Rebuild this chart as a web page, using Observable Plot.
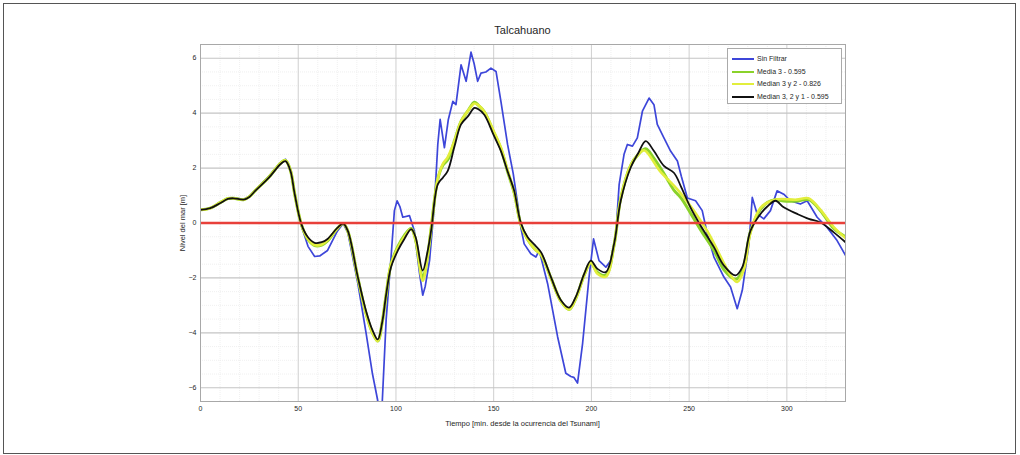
<!DOCTYPE html>
<html>
<head>
<meta charset="utf-8">
<script src="https://cdn.jsdelivr.net/npm/d3@7"></script>
<script src="https://cdn.jsdelivr.net/npm/@observablehq/plot@0.6"></script>
<style>
  html, body { margin: 0; padding: 0; background: #fff; }
  #wrap { position: relative; width: 1020px; height: 455px; overflow: hidden; font-family: "Liberation Sans", Arial, sans-serif; color: #262626; }
  #border { position: absolute; left: 3px; top: 3px; width: 1011px; height: 449px; border: 1px solid #555; pointer-events: none; }
  .lbl { position: absolute; white-space: nowrap; }
  #legend { position: absolute; left: 727px; top: 48px; width: 115px; height: 56px; background: #fff; border: 1px solid #aaa; box-sizing: border-box; }
  .entry { position: absolute; left: 4px; height: 10px; font-size: 7px; line-height: 10px; white-space: nowrap; }
  .entry span.sw { display: inline-block; width: 22px; vertical-align: middle; margin-right: 3px; }
</style>
</head>
<body>
<div id="wrap">
  <div id="chart"></div>
  <div class="lbl" id="title" style="left:0;width:1045px;top:24px;text-align:center;font-size:11px;">Talcahuano</div>
  <div class="lbl" id="xlabel" style="left:0;width:1045px;top:419px;text-align:center;font-size:7.5px;">Tiempo [min. desde la ocurrencia del Tsunami]</div>
  <div class="lbl" id="ylabel" style="left:182px;top:223px;font-size:7.5px;transform:translate(-50%,-50%) rotate(-90deg);">Nivel del mar [m]</div>
  <div id="legend"></div>
  <div id="border"></div>
</div>
<script>
// ---- data ----
const seriesNames = ["Sin Filtrar", "Media 3 - 0.595", "Median 3 y 2 - 0.826", "Median 3, 2 y 1 - 0.595"];
const seriesColors = ["#3d46d9", "#8ad22a", "#e2ee3c", "#111111"];

const xTicks = [0, 50, 100, 150, 200, 250, 300];
const yTicks = [-6, -4, -2, 0, 2, 4, 6];

// Sin Filtrar (blue)
const tSinFiltrar = [0,5,10,14,17,22,25,28,35,41,43.5,46,48.2,51.6,55,58.4,61,65,70,73,75.4,80.5,84.7,88,90.5,91.7,93,95,97.5,99.2,100.6,102,103.5,106.9,109.4,112,113.7,115,117.2,119.7,121.4,122.6,124.8,126.8,129.1,130.7,133.3,135.9,138.4,140,141.8,143.5,146,148.6,151.2,153.7,157.1,160,162.3,164,165.6,169,171.6,173.3,177.6,182.7,186.9,189.5,191,192.9,195.5,198.8,201.1,203.9,207.4,209.9,212.5,214.2,216.7,218.4,221,223.5,226.1,229.5,232,233.7,237.1,240.5,244,246,249.1,253.3,256.7,259.3,262.7,267.8,271.2,274.6,277.2,280.6,282.3,284.8,288.2,291.6,295,298.4,301.8,306.9,310.4,315.5,320.6,325.7,330];
const vSinFiltrar = [0.48,0.54,0.74,0.9,0.92,0.86,0.97,1.2,1.7,2.2,2.32,1.95,1.05,-0.1,-0.85,-1.22,-1.2,-1.0,-0.3,-0.02,-0.35,-2.2,-4.0,-5.5,-6.4,-6.9,-6.5,-3.5,-1.24,0.45,0.81,0.6,0.21,0.27,-0.28,-1.8,-2.63,-2.3,-1.36,0.69,2.86,3.77,2.74,3.77,4.43,4.31,5.76,5.16,6.22,5.8,5.16,5.46,5.5,5.64,5.52,4.43,2.86,1.8,0.69,-0.2,-0.76,-1.12,-1.24,-1.0,-2.21,-4.14,-5.47,-5.59,-5.62,-5.83,-4.38,-1.97,-0.58,-1.37,-1.61,-1.37,-0.4,1.41,2.5,2.86,2.8,3.1,4.07,4.55,4.31,3.59,3.1,2.62,2.26,1.7,0.91,0.81,0.45,-0.4,-1.24,-1.97,-2.33,-3.12,-2.45,-0.76,0.93,0.33,0.15,0.45,1.17,1.05,0.81,0.69,0.81,0.21,-0.16,-0.64,-1.18];

// Media 3 (green)
const tMedia3 = [0,5,10,14,17,22,25,28,35,41,43.5,46,48.2,51.6,55,58.4,62,65,70,73,75.4,80.5,84.7,88,90.7,93,95,97.5,101,104.3,107.8,110,113.7,116,118,121.4,124,126.5,130,133.3,137,140.1,142,145.2,150,153.7,157,160.5,163.9,167.4,171,174.2,179.3,184.4,188.6,192,196.3,199.7,203.1,207.4,211.6,215,220.1,224,227.8,232,237.1,242.2,246,250.8,255.9,262.7,267.8,273.8,277.2,281.4,286.5,290,294.2,298.4,305.3,311.2,317.2,324,330];
const vMedia3 = [0.48,0.54,0.74,0.89,0.9,0.85,0.96,1.18,1.67,2.18,2.28,1.92,1.05,-0.05,-0.6,-0.82,-0.8,-0.65,-0.2,-0.02,-0.3,-2.0,-3.3,-4.0,-4.3,-3.6,-2.6,-1.5,-0.85,-0.45,-0.2,-0.6,-2.0,-1.3,-0.2,1.6,2.1,2.3,3.0,3.7,4.1,4.4,4.3,4.05,3.3,2.7,1.9,1.1,-0.05,-0.6,-0.95,-1.15,-2.0,-2.85,-3.15,-2.75,-1.9,-1.45,-1.8,-1.9,-0.8,0.9,2.1,2.5,2.7,2.35,1.8,1.2,0.9,0.35,-0.25,-1.0,-1.7,-2.05,-1.75,-0.3,0.5,0.75,0.85,0.8,0.8,0.85,0.45,-0.2,-0.5];

// Median 3 y 2 (yellow)
const tMedian32 = [0,5,10,14,17,22,25,28,35,41,43.5,46,48.2,51.6,55,58.4,62,65,70,73,75.4,80.5,84.7,88,90.7,93,95,97.5,101,104.3,107.8,110,113.7,116,118,121.4,124,126.5,130,133.3,137,140.1,142,145.2,150,153.7,157,160.5,163.9,167.4,171,174.2,179.3,184.4,188.6,192,196.3,199.7,203.1,207.4,211.6,215,220.1,224,227,235,245.7,259.3,271.2,274.6,278,281.4,286.5,294,305,311,317,324,330];
const vMedian32 = [0.48,0.54,0.74,0.89,0.9,0.85,0.96,1.18,1.67,2.18,2.28,1.92,1.05,-0.05,-0.58,-0.8,-0.78,-0.62,-0.2,-0.02,-0.3,-2.0,-3.3,-4.0,-4.3,-3.6,-2.6,-1.5,-0.9,-0.5,-0.22,-0.6,-2.1,-1.3,-0.2,1.6,2.15,2.4,3.0,3.7,4.1,4.35,4.3,4.05,3.35,2.75,1.95,1.1,-0.05,-0.6,-0.95,-1.15,-2.0,-2.85,-3.15,-2.75,-1.9,-1.45,-1.85,-1.95,-0.8,0.9,2.1,2.5,2.65,1.9,1.08,-0.3,-1.9,-2.15,-1.7,-0.35,0.55,0.85,0.85,0.9,0.5,-0.15,-0.55];

// Median 3, 2 y 1 (black)
const tMedian321 = [0,5,10,14,17,22,25,28,35,41,43.5,46,48.2,51.6,55,58.4,62,65,70,73,75.4,80.5,84.7,88,90.7,93,95,97.5,101,104.3,107.8,110,113.7,116,118,121.4,124,126.5,130,133.3,137,140.1,142,145.2,150,153.7,157,160.5,163.9,167.4,171,174.2,179.3,184.4,188.6,192,196.3,199.7,203.1,207.4,211.6,215,220.1,224,227.8,232,237.1,242.2,246,250.8,255.9,262.7,267.8,273.8,277.2,281.4,286.5,290,294.2,298.4,305.3,311.2,317.2,324,330];
const vMedian321 = [0.48,0.54,0.72,0.88,0.9,0.85,0.95,1.17,1.65,2.15,2.25,1.9,1.05,-0.04,-0.52,-0.72,-0.7,-0.58,-0.18,-0.02,-0.29,-1.97,-3.2,-3.9,-4.24,-3.6,-2.6,-1.6,-1.0,-0.58,-0.22,-0.5,-1.73,-1.1,-0.27,1.41,1.65,1.9,2.8,3.59,3.9,4.19,4.15,3.94,3.2,2.62,1.9,1.17,0.0,-0.52,-0.8,-1.06,-1.97,-2.81,-3.08,-2.69,-1.85,-1.37,-1.67,-1.79,-0.76,0.81,2.02,2.55,2.98,2.62,2.08,1.83,1.3,0.55,-0.1,-0.88,-1.55,-1.91,-1.61,-0.28,0.33,0.6,0.81,0.57,0.33,0.15,0.02,-0.34,-0.7];

// ---- build ----
const rows = (t, v) => t.map((x, i) => ({t: x, v: v[i]}));
const dBlue = rows(tSinFiltrar, vSinFiltrar);
const dGreen = rows(tMedia3, vMedia3);
const dYellow = rows(tMedian32, vMedian32);
const dBlack = rows(tMedian321, vMedian321);

const minorX = d3.range(0, 331, 10).filter(d => d % 50 !== 0);
const minorY = d3.range(-6.5, 6.51, 0.5).filter(d => Math.abs(d % 2) > 1e-9);

const chart = Plot.plot({
  width: 1020,
  height: 455,
  marginLeft: 200,
  marginRight: 175,
  marginTop: 44,
  marginBottom: 54,
  style: {fontFamily: "Liberation Sans, Arial, sans-serif", fontSize: "7px", color: "#262626", background: "transparent"},
  x: {domain: [0, 330], label: null},
  y: {domain: [-6.5, 6.5], label: null},
  marks: [
    Plot.ruleX(minorX, {stroke: "#ececec", strokeWidth: 0.8, strokeDasharray: "1,1"}),
    Plot.ruleY(minorY, {stroke: "#ececec", strokeWidth: 0.8, strokeDasharray: "1,1"}),
    Plot.ruleX(xTicks, {stroke: "#cfcfcf", strokeWidth: 1}),
    Plot.ruleY(yTicks, {stroke: "#c4c4c4", strokeWidth: 1.2}),
    Plot.line(dBlue, {x: "t", y: "v", stroke: seriesColors[0], strokeWidth: 1.7, clip: true}),
    Plot.line(dGreen, {x: "t", y: "v", stroke: seriesColors[1], strokeWidth: 3, curve: "catmull-rom", clip: true}),
    Plot.line(dYellow, {x: "t", y: "v", stroke: seriesColors[2], strokeWidth: 2.6, curve: "catmull-rom", clip: true}),
    Plot.line(dBlack, {x: "t", y: "v", stroke: seriesColors[3], strokeWidth: 1.8, curve: "catmull-rom", clip: true}),
    Plot.ruleY([0], {stroke: "#e8403a", strokeWidth: 2.5}),
    Plot.frame({stroke: "#a8a8a8"}),
    Plot.axisX(xTicks, {tickSize: 0, tickPadding: 5, fontSize: 7, label: null}),
    Plot.axisY(yTicks, {tickSize: 0, tickPadding: 4, fontSize: 7, label: null})
  ]
});
document.getElementById("chart").appendChild(chart);

// legend
const legend = document.getElementById("legend");
const sw = [2.5, 2.5, 2.5, 2.5];
seriesNames.forEach((name, i) => {
  const e = document.createElement("div");
  e.className = "entry";
  e.style.top = (5 + i * 12.5) + "px";
  e.innerHTML = `<span class="sw" style="border-top:${sw[i]}px solid ${seriesColors[i]}"></span>${name}`;
  legend.appendChild(e);
});
</script>
</body>
</html>
